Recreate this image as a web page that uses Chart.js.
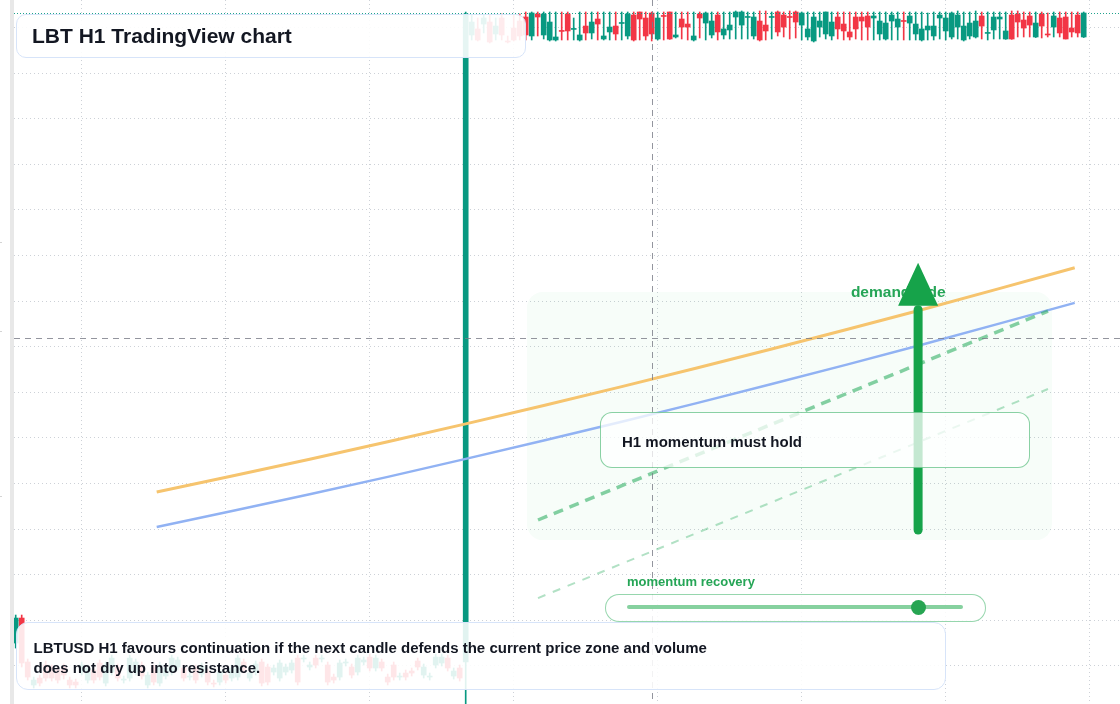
<!DOCTYPE html>
<html><head><meta charset="utf-8">
<script src="https://cdn.jsdelivr.net/npm/chart.js@4.4.1/dist/chart.umd.min.js"></script>
<style>
html,body{margin:0;padding:0;background:#fff;width:1120px;height:704px;overflow:hidden;font-family:"Liberation Sans",Arial,sans-serif;}
#wrap{position:relative;width:1120px;height:704px;}
#c{position:absolute;left:0;top:0;}
.strip{position:absolute;left:10px;top:0;width:4px;height:704px;background:#e8e8e8;}
.mark{position:absolute;left:0;width:2px;height:1px;background:#d4d4d4;}
.box{position:absolute;box-sizing:border-box;}
#title{left:16px;top:14px;width:510px;height:44px;border:1px solid #d7e4f9;border-radius:10px;background:rgba(255,255,255,0.9);font-weight:700;font-size:21px;color:#131722;padding-left:15px;line-height:42px;white-space:nowrap;}
#note{left:16px;top:622px;width:930px;height:68px;border:1.5px solid #d7e4f9;border-radius:12px;background:rgba(255,255,255,0.88);font-weight:700;font-size:15px;color:#131722;padding:15px 0 0 16.5px;line-height:20px;white-space:nowrap;}
#hold{left:600px;top:412px;width:430px;height:56px;border:1px solid rgba(22,163,74,0.5);border-radius:12px;background:rgba(255,255,255,0.75);font-weight:700;font-size:15px;color:#131722;padding-left:21px;padding-top:2px;line-height:54px;white-space:nowrap;}
#recLabel{left:627px;top:574px;font-weight:700;font-size:13px;line-height:15px;color:#25a556;white-space:nowrap;}
#slider{left:605px;top:594px;width:381px;height:28px;border:1px solid rgba(22,163,74,0.45);border-radius:14px;background:rgba(255,255,255,0.85);}
#track{position:absolute;left:21px;top:10px;width:336px;height:4px;background:#86d19f;border-radius:2px;}
#knob{position:absolute;left:304.5px;top:4.5px;width:15px;height:15px;border-radius:50%;background:#27a552;}
</style>
</head>
<body>
<div id="wrap">
  <canvas id="c" width="1120" height="704"></canvas>
  <div class="strip"></div>
  <div class="mark" style="top:242px"></div>
  <div class="mark" style="top:331px"></div>
  <div class="mark" style="top:496px"></div>
  <div class="box" id="title">LBT H1 TradingView chart</div>
  <div class="box" id="hold">H1 momentum must hold</div>
  <div class="box" id="recLabel">momentum recovery</div>
  <div class="box" id="slider"><div id="track"></div><div id="knob"></div></div>
  <div class="box" id="note">LBTUSD H1 favours continuation if the next candle defends the current price zone and volume<br>does not dry up into resistance.</div>
</div>
<script>
// ---- DATA ----
const firstIndex = -1; // candle index of first bar (H1 bars)
const opens = [
 1.751,2.025,1.543,1.291,1.367,1.510,1.477,1.455,1.488,1.345,1.323,
 1.433,1.345,1.455,1.532,1.312,1.433,1.488,1.345,1.367,1.433,
 1.510,1.291,1.477,1.312,1.389,1.433,1.488,1.477,1.378,1.477,
 1.411,1.433,1.312,1.323,1.400,1.367,1.378,1.543,1.367,1.433,
 1.543,1.488,1.433,1.367,1.433,1.455,1.586,1.576,1.488,1.586,
 1.576,1.510,1.378,1.378,1.532,1.488,1.433,1.543,1.597,1.477,
 1.543,1.378,1.510,1.378,1.422,1.444,1.554,1.400,1.378,1.510,
 1.532,1.586,1.389,1.477,1.543,
 8.418,8.484,8.538,8.560,8.429,8.604,8.352,8.494,8.571,8.615,
 8.407,8.648,8.418,8.363,8.363,8.467,8.648,8.479,8.363,8.516,
 8.440,8.593,8.374,8.451,8.516,8.544,8.407,8.637,8.670,8.604,
 8.659,8.374,8.631,8.670,8.396,8.593,8.538,8.363,8.648,8.549,
 8.418,8.637,8.418,8.473,8.615,8.527,8.610,8.407,8.571,8.527,
 8.610,8.670,8.637,8.620,8.670,8.527,8.396,8.352,8.505,8.429,
 8.407,8.615,8.538,8.451,8.615,8.615,8.626,8.604,8.429,8.374,
 8.571,8.505,8.576,8.549,8.429,8.363,8.473,8.407,8.604,8.462,
 8.396,8.505,8.363,8.407,8.396,8.626,8.435,8.473,8.593,8.374,
 8.637,8.648,8.582,8.626,8.396,8.648,8.429,8.505,8.604,8.615,
 8.494,8.637,8.396
];
const highs = [
 2.058,2.058,1.576,1.378,1.400,1.554,1.510,1.488,1.521,1.378,1.356,
 1.543,1.510,1.488,1.565,1.543,1.619,1.521,1.389,1.619,1.576,
 1.543,1.433,1.510,1.543,1.510,1.619,1.597,1.510,1.422,1.510,
 1.532,1.466,1.345,1.466,1.433,1.510,1.619,1.576,1.455,1.554,
 1.576,1.521,1.510,1.565,1.521,1.565,1.619,1.619,1.543,1.619,
 1.619,1.543,1.411,1.565,1.576,1.521,1.619,1.597,1.630,1.619,
 1.576,1.411,1.543,1.422,1.455,1.477,1.586,1.521,1.422,1.630,
 1.630,1.619,1.477,1.510,8.670,
 8.637,8.604,8.637,8.637,8.604,8.648,8.407,8.637,8.648,8.670,
 8.670,8.670,8.670,8.670,8.670,8.670,8.670,8.604,8.670,8.670,
 8.670,8.670,8.670,8.670,8.670,8.670,8.670,8.670,8.670,8.670,
 8.670,8.670,8.670,8.670,8.670,8.670,8.670,8.670,8.670,8.670,
 8.670,8.670,8.670,8.670,8.681,8.681,8.670,8.670,8.681,8.681,
 8.670,8.681,8.670,8.681,8.681,8.670,8.670,8.670,8.670,8.670,
 8.670,8.670,8.670,8.670,8.670,8.670,8.670,8.670,8.670,8.670,
 8.670,8.670,8.670,8.670,8.670,8.670,8.659,8.670,8.670,8.670,
 8.670,8.681,8.670,8.670,8.681,8.670,8.670,8.670,8.670,8.670,
 8.681,8.681,8.670,8.670,8.670,8.670,8.659,8.670,8.670,8.670,
 8.670,8.670,8.670
];
const lows = [
 1.696,1.488,1.345,1.258,1.280,1.334,1.334,1.312,1.356,1.258,1.258,
 1.400,1.312,1.312,1.345,1.280,1.400,1.334,1.312,1.334,1.400,
 1.356,1.258,1.291,1.280,1.356,1.400,1.455,1.334,1.345,1.312,
 1.378,1.291,1.269,1.291,1.312,1.334,1.345,1.422,1.334,1.400,
 1.280,1.291,1.400,1.334,1.400,1.422,1.291,1.543,1.455,1.477,
 1.543,1.291,1.312,1.345,1.499,1.367,1.400,1.510,1.444,1.444,
 1.444,1.291,1.345,1.345,1.345,1.389,1.455,1.367,1.345,1.477,
 1.499,1.444,1.356,1.334,0.995,
 8.363,8.352,8.440,8.330,8.363,8.363,8.330,8.352,8.363,8.363,
 8.363,8.407,8.374,8.352,8.352,8.363,8.363,8.363,8.352,8.363,
 8.374,8.363,8.363,8.363,8.363,8.363,8.374,8.352,8.363,8.363,
 8.352,8.363,8.363,8.370,8.385,8.374,8.363,8.352,8.385,8.363,
 8.385,8.363,8.374,8.374,8.374,8.374,8.374,8.374,8.352,8.363,
 8.374,8.407,8.396,8.374,8.385,8.363,8.363,8.341,8.396,8.374,
 8.363,8.374,8.363,8.363,8.374,8.363,8.363,8.363,8.363,8.363,
 8.363,8.363,8.363,8.363,8.363,8.352,8.363,8.363,8.374,8.363,
 8.374,8.374,8.352,8.374,8.385,8.374,8.363,8.374,8.374,8.370,
 8.370,8.396,8.396,8.396,8.390,8.385,8.396,8.396,8.396,8.374,
 8.396,8.396,8.390
];
const closes = [
 2.025,1.532,1.378,1.345,1.312,1.367,1.367,1.345,1.400,1.291,1.291,
 1.510,1.477,1.345,1.378,1.510,1.586,1.367,1.356,1.586,1.543,
 1.389,1.400,1.323,1.510,1.477,1.586,1.565,1.367,1.389,1.345,
 1.499,1.323,1.301,1.433,1.345,1.477,1.586,1.455,1.422,1.521,
 1.312,1.323,1.477,1.532,1.488,1.532,1.323,1.586,1.510,1.510,
 1.586,1.323,1.345,1.532,1.543,1.400,1.586,1.565,1.477,1.586,
 1.477,1.323,1.378,1.389,1.378,1.422,1.488,1.488,1.389,1.597,
 1.597,1.477,1.444,1.367,8.648,
 8.560,8.363,8.604,8.341,8.516,8.418,8.341,8.363,8.407,8.418,
 8.659,8.615,8.648,8.560,8.396,8.457,8.462,8.489,8.418,8.440,
 8.560,8.538,8.407,8.505,8.429,8.554,8.648,8.363,8.593,8.407,
 8.429,8.604,8.621,8.374,8.418,8.505,8.505,8.407,8.604,8.659,
 8.571,8.451,8.484,8.527,8.670,8.670,8.620,8.615,8.363,8.462,
 8.620,8.451,8.505,8.610,8.560,8.659,8.484,8.615,8.571,8.670,
 8.560,8.484,8.462,8.396,8.484,8.571,8.505,8.626,8.571,8.549,
 8.637,8.593,8.566,8.626,8.538,8.484,8.516,8.516,8.637,8.604,
 8.659,8.637,8.516,8.549,8.571,8.516,8.445,8.615,8.615,8.462,
 8.374,8.560,8.494,8.527,8.549,8.516,8.418,8.626,8.440,8.374,
 8.451,8.440,8.659
];
// overlay series (x = bar index, y = price)
const trendIdx   = [22.5, 48, 74, 100, 125, 150, 175.5];
const emaSlow    = [3.407, 3.766, 4.154, 4.562, 4.975, 5.406, 5.865];
const emaFast    = [3.023, 3.382, 3.770, 4.178, 4.591, 5.022, 5.481];
const supportIdx = [86.05, 171.05];
const supportMain  = [3.100, 5.391];
const supportLower = [2.244, 4.536];
// grid ticks
const xTicks = [10, 34, 58, 82, 106, 130, 154, 178];
const yTicks = [1.5, 2.0, 2.5, 3.0, 3.5, 4.0, 4.5, 5.0, 5.5, 6.0, 6.5, 7.0, 7.5, 8.0, 8.5];
// annotations (bar index / price)
const crossIdx = 105, crossPrice = 5.095;
const zone = {x0: 84.2, x1: 171.7, top: 5.600, bottom: 2.880, label: 'demand side', labelIdx: 138.2, labelPrice: 5.589};
const arrow = {idx: 149.4, tip: 5.921, base: 5.449, tail: 2.990};

// ---- CHART ----
const UP = '#089981', DOWN = '#f23645';
const idx = opens.map((_, i) => firstIndex + i);
const colors = opens.map((o, i) => closes[i] >= o ? UP : DOWN);
const wickData = idx.map((k, i) => ({x: k, y: [lows[i], highs[i]]}));
const bodyData = idx.map((k, i) => ({x: k, y: [opens[i], closes[i]]}));
const pts = (xs, ys) => xs.map((x, i) => ({x, y: ys[i]}));

const overlay = {
  id: 'overlay',
  beforeDatasetsDraw(chart) {
    const {ctx, scales: {x, y}} = chart;
    const l = x.getPixelForValue(zone.x0), r = x.getPixelForValue(zone.x1);
    const t = y.getPixelForValue(zone.top), b = y.getPixelForValue(zone.bottom);
    ctx.save();
    ctx.fillStyle = 'rgba(34,197,94,0.035)';
    ctx.beginPath();
    if (ctx.roundRect) ctx.roundRect(l, t, r - l, b - t, 16); else ctx.rect(l, t, r - l, b - t);
    ctx.fill();
    ctx.restore();
  },
  afterDatasetsDraw(chart) {
    const {ctx, chartArea: ca, scales: {x, y}} = chart;
    ctx.save();
    // last price line
    const lp = Math.round(y.getPixelForValue(closes[closes.length - 1])) + 0.5;
    ctx.strokeStyle = 'rgba(8,153,129,0.9)'; ctx.lineWidth = 1; ctx.setLineDash([1, 2]);
    ctx.beginPath(); ctx.moveTo(ca.left, lp); ctx.lineTo(ca.right, lp); ctx.stroke();
    // crosshair
    ctx.strokeStyle = 'rgba(120,123,134,0.8)'; ctx.setLineDash([6, 5]);
    const cy = Math.round(y.getPixelForValue(crossPrice)) + 0.5;
    ctx.beginPath(); ctx.moveTo(ca.left, cy); ctx.lineTo(ca.right, cy); ctx.stroke();
    const cx = Math.round(x.getPixelForValue(crossIdx)) + 0.5;
    ctx.beginPath(); ctx.moveTo(cx, ca.top); ctx.lineTo(cx, ca.bottom); ctx.stroke();
    ctx.setLineDash([]);
    // zone label
    ctx.font = 'bold 15.5px "Liberation Sans", Arial, sans-serif';
    ctx.fillStyle = '#25a556'; ctx.textBaseline = 'middle'; ctx.textAlign = 'left';
    ctx.fillText(zone.label, x.getPixelForValue(zone.labelIdx), y.getPixelForValue(zone.labelPrice));
    // arrow
    const ax = x.getPixelForValue(arrow.idx);
    const yTip = y.getPixelForValue(arrow.tip), yBase = y.getPixelForValue(arrow.base), yTail = y.getPixelForValue(arrow.tail);
    ctx.strokeStyle = '#16a34a'; ctx.lineWidth = 9; ctx.lineCap = 'round';
    ctx.beginPath(); ctx.moveTo(ax, yTail); ctx.lineTo(ax, yBase + 4); ctx.stroke();
    ctx.fillStyle = '#16a34a';
    ctx.beginPath(); ctx.moveTo(ax, yTip); ctx.lineTo(ax + 20, yBase); ctx.lineTo(ax - 20, yBase); ctx.closePath(); ctx.fill();
    ctx.restore();
  }
};

const gridScale = (ticks, isX) => ({
  type: 'linear',
  offset: false,
  grid: {offset: false, color: '#cdd1d7', lineWidth: 1, drawTicks: false},
  border: {display: false, dash: [1, 3]},
  ticks: {display: false},
  afterBuildTicks: s => { s.ticks = ticks.map(v => ({value: v})); },
  afterFit: s => { if (isX) s.height = 0; else s.width = 0; }
});

const xs = gridScale(xTicks, true); xs.min = -1.283; xs.max = 183.05;
const ys = gridScale(yTicks, false); ys.min = 1.0825; ys.max = 8.8015;

new Chart(document.getElementById('c'), {
  type: 'bar',
  data: {
    datasets: [
      {type: 'bar', data: wickData, backgroundColor: colors, barThickness: 1, grouped: false, order: 5, borderWidth: 0},
      {type: 'bar', data: bodyData, backgroundColor: colors, barThickness: 5, minBarLength: 1, grouped: false, order: 4, borderWidth: 0},
      {type: 'line', data: pts(trendIdx, emaSlow), borderColor: '#f6c46e', borderWidth: 3, pointRadius: 0, tension: 0.4, order: 3},
      {type: 'line', data: pts(trendIdx, emaFast), borderColor: '#91b2f3', borderWidth: 2.5, pointRadius: 0, tension: 0.4, order: 3},
      {type: 'line', data: pts(supportIdx, supportMain), borderColor: 'rgba(34,170,90,0.55)', borderWidth: 3.5, borderDash: [10, 7], pointRadius: 0, order: 2},
      {type: 'line', data: pts(supportIdx, supportLower), borderColor: 'rgba(34,170,90,0.35)', borderWidth: 2, borderDash: [8, 8], pointRadius: 0, order: 2}
    ]
  },
  options: {
    responsive: false,
    animation: false,
    events: [],
    layout: {padding: {left: 14, right: 0, top: 0, bottom: 0}},
    plugins: {legend: {display: false}, tooltip: {enabled: false}},
    scales: {x: xs, y: ys}
  },
  plugins: [overlay]
});
</script>
</body></html>
